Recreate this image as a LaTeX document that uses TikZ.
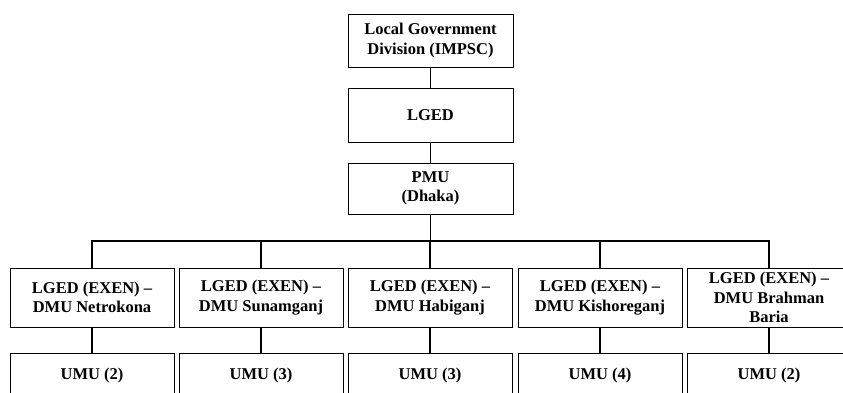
\documentclass[tikz,border=0pt]{standalone}
\usepackage{fontspec}
\setmainfont{Liberation Serif}
\begin{document}
\begin{tikzpicture}[x=1pt,y=-1pt,
  orgbox/.style={draw, line width=1pt, inner sep=0pt, outer sep=0pt,
    align=center, minimum width=164pt,
    font=\fontsize{16.5}{19.5}\selectfont\bfseries},
  link/.style={line width=1.8pt}]
  % canvas
  \fill[white] (0,0) rectangle (843,392);
  \useasboundingbox (0,0) rectangle (843,392);

  % upper chain
  \node[orgbox, minimum width=165pt, minimum height=53pt] (lgd) at (430.5,40.5)
    {Local Government\\Division (IMPSC)};
  \node[orgbox, minimum width=165pt, minimum height=54pt] (lged) at (430.5,115) {LGED};
  \node[orgbox, minimum width=165pt, minimum height=51pt] (pmu) at (430.5,188.5)
    {PMU\\(Dhaka)};

  % district management units
  \node[orgbox, minimum height=59pt] (d1) at (92,297.5) {LGED (EXEN) –\\DMU Netrokona};
  \node[orgbox, minimum height=59pt] (d2) at (261,297.5) {LGED (EXEN) –\\DMU Sunamganj};
  \node[orgbox, minimum height=59pt] (d3) at (430,297.5) {LGED (EXEN) –\\DMU Habiganj};
  \node[orgbox, minimum height=59pt] (d4) at (600,297.5) {LGED (EXEN) –\\DMU Kishoreganj};
  \node[orgbox, minimum height=59pt] (d5) at (769,297.5) {LGED (EXEN) –\\DMU Brahman\\Baria};

  % upazila management units
  \node[orgbox, minimum height=45pt] (u1) at (92,375.5) {UMU (2)};
  \node[orgbox, minimum height=45pt] (u2) at (261,375.5) {UMU (3)};
  \node[orgbox, minimum height=45pt] (u3) at (430,375.5) {UMU (3)};
  \node[orgbox, minimum height=45pt] (u4) at (600,375.5) {UMU (4)};
  \node[orgbox, minimum height=45pt] (u5) at (769,375.5) {UMU (2)};

  % connectors
  \coordinate (bus) at (0,241);
  \draw[link] (lgd.south) -- (lged.north);
  \draw[link] (lged.south) -- (pmu.north);
  \draw[link] (pmu.south) -- (pmu.south |- bus);
  \draw[link] (d1.north) -- (d1.north |- bus) -- (d5.north |- bus) -- (d5.north);
  \foreach \d in {d2,d3,d4}
    \draw[link] (\d.north) -- (\d.north |- bus);
  \foreach \i in {1,...,5}
    \draw[link] (d\i.south) -- (u\i.north);
\end{tikzpicture}
\end{document}
